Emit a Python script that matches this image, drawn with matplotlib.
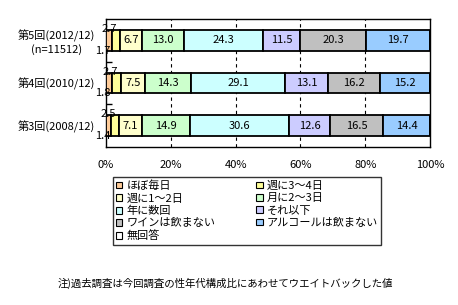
import matplotlib
matplotlib.use("Agg")
import matplotlib.pyplot as plt
import numpy as np

plt.rcParams['font.family'] = ['Noto Sans CJK JP', 'DejaVu Sans']

categories = ['第5回(2012/12)\n(n=11512)', '第4回(2010/12)', '第3回(2008/12)']
series_names = ['ほぼ毎日', '週に3～4日', '週に1～2日', '月に2～3日', '年に数回',
                'それ以下', 'ワインは飲まない', 'アルコールは飲まない', '無回答']
values = {
    'ほぼ毎日':            [1.7, 1.8, 1.4],
    '週に3～4日':          [2.7, 2.7, 2.5],
    '週に1～2日':          [6.7, 7.5, 7.1],
    '月に2～3日':          [13.0, 14.3, 14.9],
    '年に数回':            [24.3, 29.1, 30.6],
    'それ以下':            [11.5, 13.1, 12.6],
    'ワインは飲まない':    [20.3, 16.2, 16.5],
    'アルコールは飲まない': [19.7, 15.2, 14.4],
    '無回答':              [0.1, 0.1, 0.0],
}
colors = ['#FFCC99', '#FFFF99', '#FFFFCC', '#CCFFCC', '#CCFFFF',
          '#CCCCFF', '#C0C0C0', '#99CCFF', '#FFFFFF']
xticks = [0, 20, 40, 60, 80, 100]
xticklabels = ['0%', '20%', '40%', '60%', '80%', '100%']
note = '注)過去調査は今回調査の性年代構成比にあわせてウエイトバックした値'

fig = plt.figure(figsize=(4.58, 3.05), dpi=100)
ax = fig.add_axes([106/458, 1-147/305, (430-106)/458, (147-19)/305])

y = np.arange(len(categories))
bar_h = 0.49
left = np.zeros(len(categories))
handles = []
for name, c in zip(series_names, colors):
    v = np.array(values[name])
    h = ax.barh(y, v, left=left, height=bar_h, color=c, edgecolor='black',
                linewidth=1.3, label=name, zorder=3)
    handles.append(h)
    for i, (l, w) in enumerate(zip(left, v)):
        if name == 'ほぼ毎日':
            ax.text(l - 0.9, y[i] + bar_h/2, f'{w:.1f}', ha='center', va='center',
                    fontsize=8, zorder=5)
        elif name == '週に3～4日':
            ax.text(l - 0.6, y[i] - bar_h/2 - 0.02, f'{w:.1f}', ha='center', va='center',
                    fontsize=8, zorder=5)
        elif w >= 5:
            ax.text(l + w/2, y[i], f'{w:.1f}', ha='center', va='center',
                    fontsize=8, zorder=5)
    left = left + v

ax.set_xlim(0, 100)
ax.set_ylim(2.5, -0.5)
ax.set_xticks(xticks)
ax.set_xticklabels(xticklabels, fontsize=8)
ax.set_yticks(y)
ax.set_yticklabels(categories, fontsize=8, multialignment='center')
ax.tick_params(axis='both', length=0, pad=8)
ax.tick_params(axis='x', pad=9)
ax.set_yticks([0.5, 1.5], minor=True)
ax.tick_params(axis='y', which='minor', direction='in', length=4, width=1)
for xv in xticks[1:-1]:
    ax.axvline(xv, color='black', linestyle=(0, (3, 3)), linewidth=0.8, zorder=1)
for s in ax.spines.values():
    s.set_linewidth(1.0)
    s.set_color('black')

order = [0, 2, 4, 6, 8, 1, 3, 5, 7]
leg = fig.legend([handles[i] for i in order], [series_names[i] for i in order],
                 ncol=2, loc='upper left',
                 bbox_to_anchor=(113/458, 1-253/305, 268/458, 76/305),
                 mode='expand', fontsize=8, frameon=True, fancybox=False,
                 edgecolor='black', handlelength=0.55, handleheight=0.55,
                 handletextpad=0.35, labelspacing=0.2, borderpad=0.3,
                 borderaxespad=0, columnspacing=1.0)
leg.get_frame().set_linewidth(1.0)
for p in leg.get_patches():
    p.set_linewidth(0.8)

fig.text(225/458, 1-283/305, note, ha='center', va='center', fontsize=7.5)

fig.savefig('out.png', dpi=100)
